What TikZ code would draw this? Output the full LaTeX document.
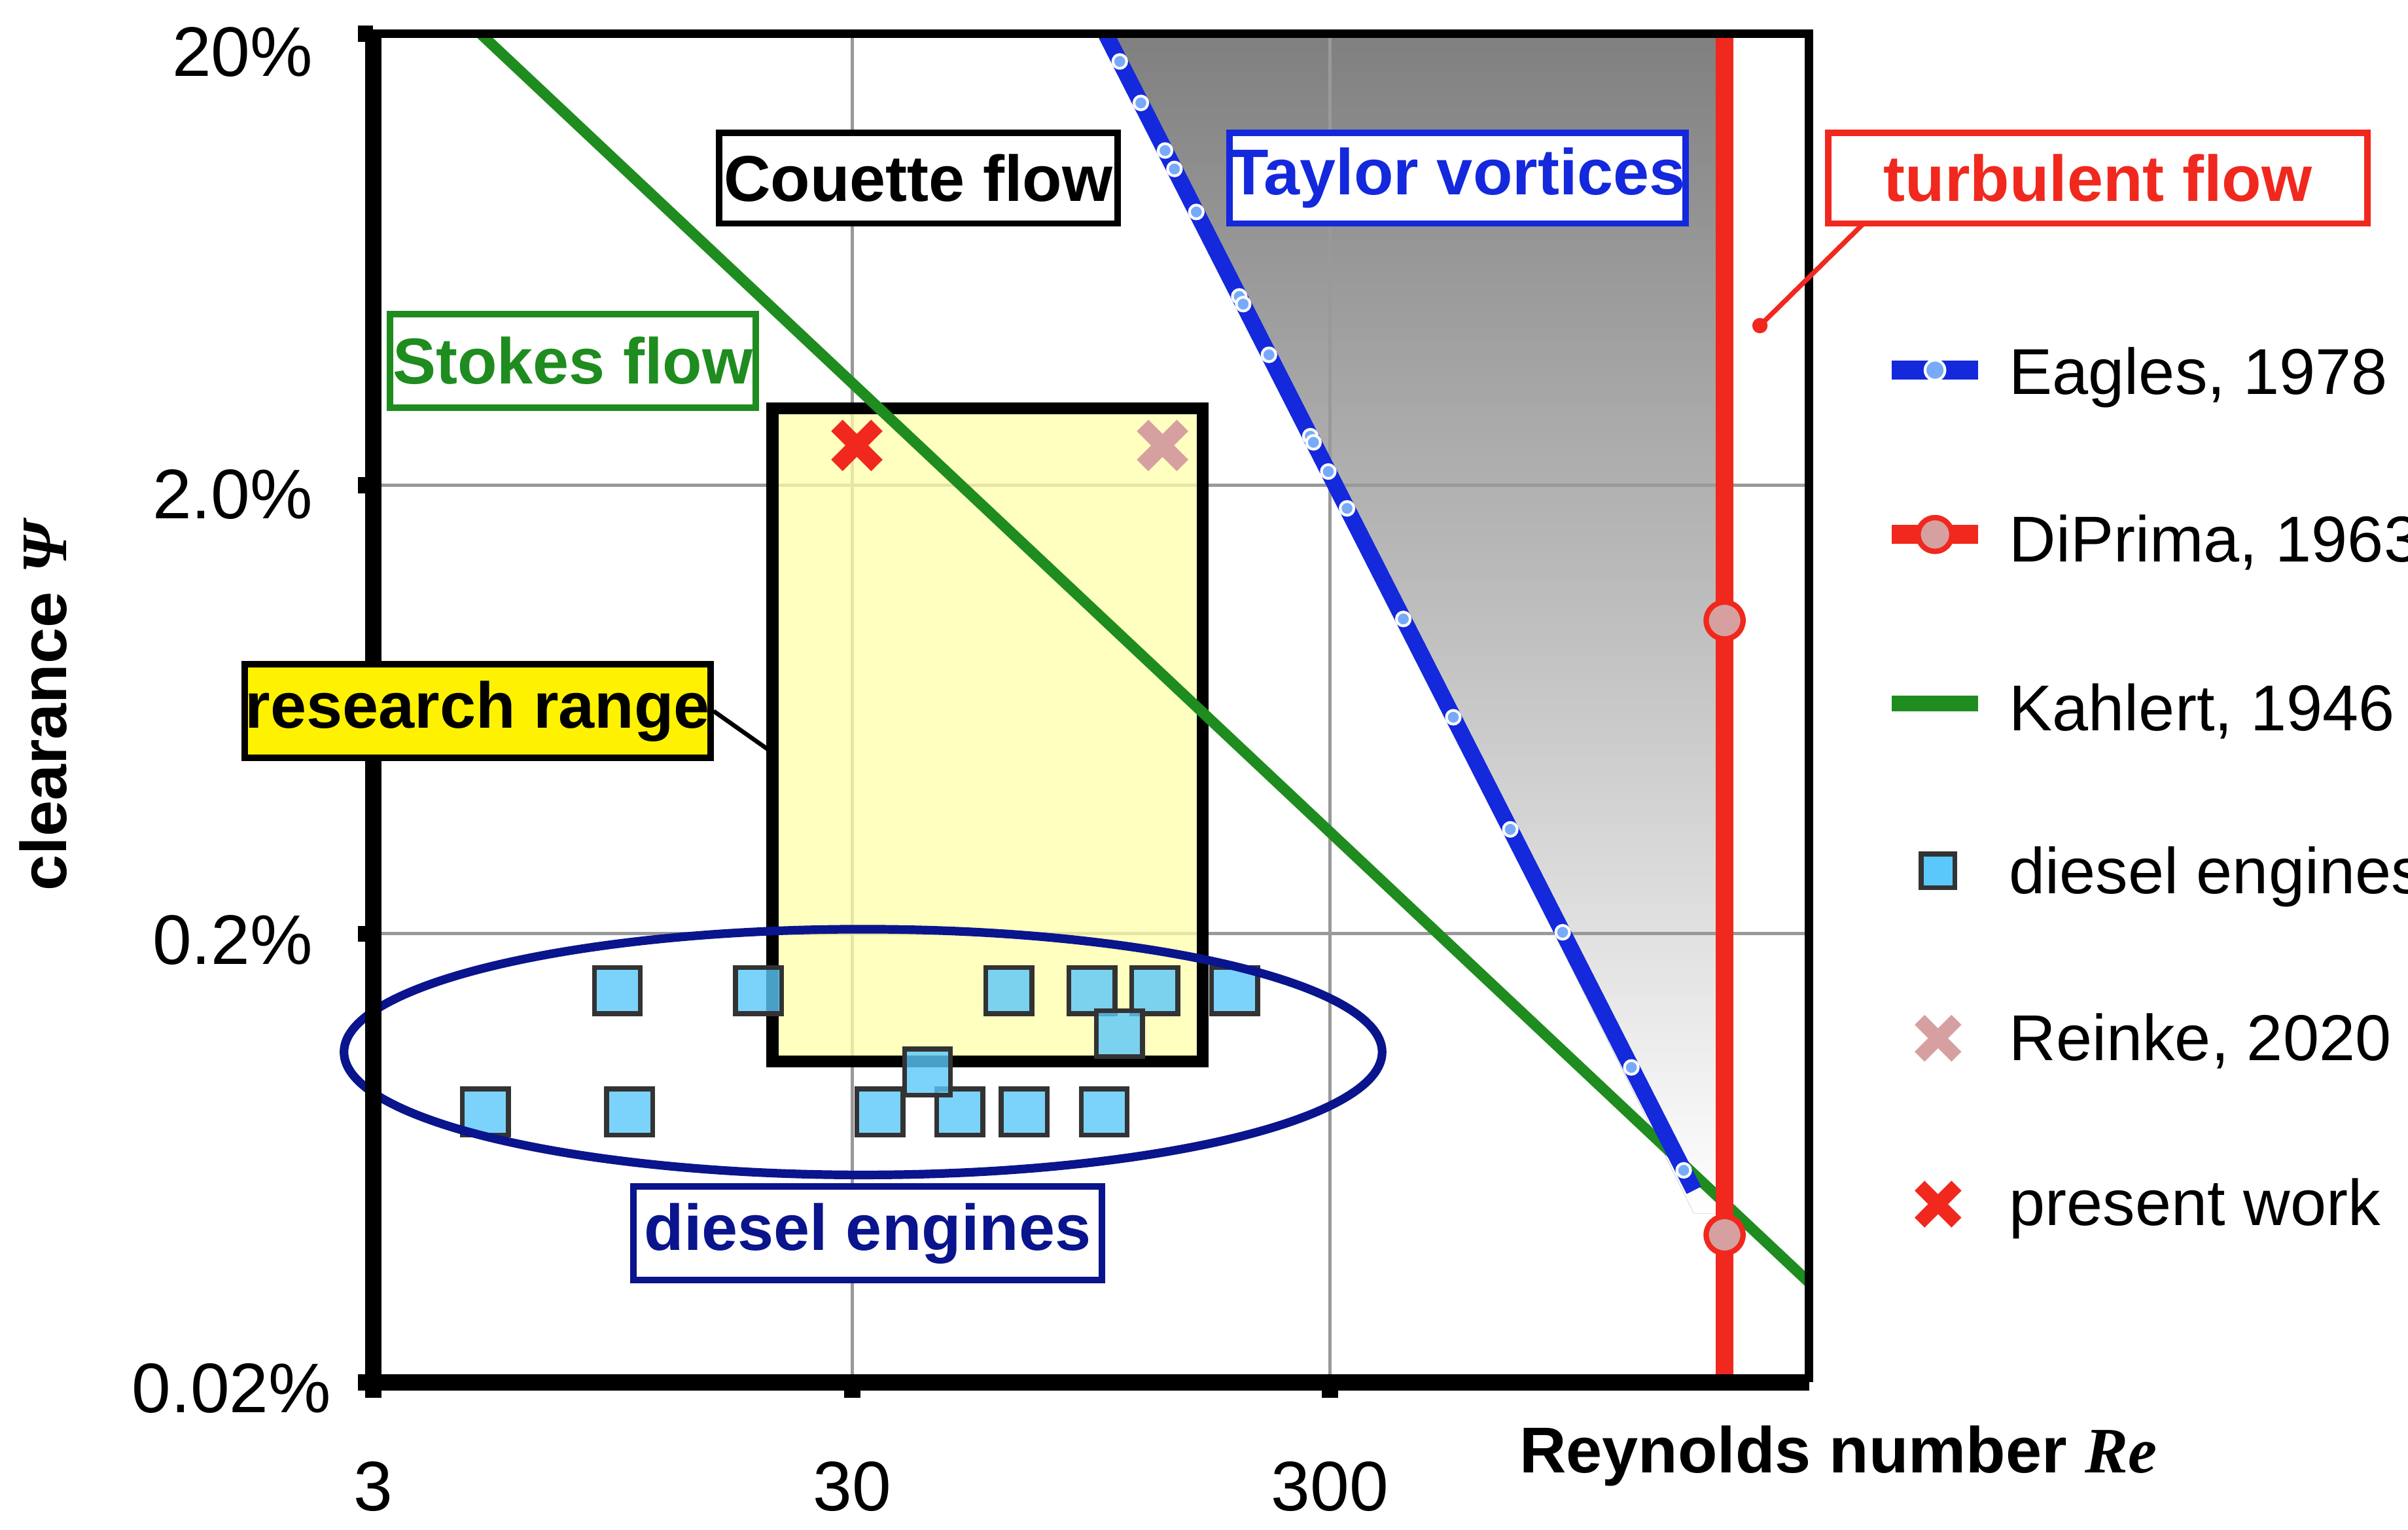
\documentclass[tikz,border=0pt]{standalone}
\usepackage{fontspec}
\setmainfont{Liberation Sans}
\newfontfamily\serifit{Liberation Serif}
\definecolor{eblue}{RGB}{20,40,220}
\definecolor{dblue}{RGB}{10,20,140}
\definecolor{gr}{RGB}{30,140,30}
\definecolor{rd}{RGB}{240,40,30}
\definecolor{pk}{RGB}{215,160,160}
\definecolor{sqc}{RGB}{90,200,250}
\definecolor{emc}{RGB}{120,170,250}
\definecolor{shade}{RGB}{155,208,250}
\definecolor{ylw}{RGB}{255,255,170}
\begin{document}
\begin{tikzpicture}[x=0.01cm,y=-0.01cm,
  lab/.style={draw,line width=1.2pt,fill=white,font=\fontsize{12}{14}\selectfont\bfseries,inner sep=0pt,minimum height=0.59cm},
  tick/.style={font=\fontsize{13}{15}\selectfont},
  leg/.style={font=\fontsize{12}{14}\selectfont,anchor=west},
  sq/.style={draw=black!80,line width=0.9pt,fill=sqc,fill opacity=0.8,minimum size=0.3cm,inner sep=0pt},
  emk/.style={circle,draw=white,fill=emc,line width=0.5pt,minimum size=0.09cm,inner sep=0pt}]
\useasboundingbox (0,0) rectangle (1568,996);
% shaded region
\fill[shade] (720,22) -- (1120,22) -- (1120,790) -- (1103,790) -- cycle;
% grid
\draw[gray!80,line width=0.6pt] (555,22)--(555,900) (866,22)--(866,900) (243,316)--(1178,316) (243,608)--(1178,608);
% research box
\fill[ylw,fill opacity=0.75] (503,266) rectangle (783,691);
\draw[line width=2.2pt] (503,266) rectangle (783,691);
% green line
\draw[gr,line width=2pt] (313,22) -- (1178,835);
% Eagles
\draw[eblue,line width=3pt] (720,22) -- (1103,775);
\foreach \yy in {40,67,98,110,138,193,198,231,284,288,307,331,403,467,540,607,695,762}
  \node[emk] at ({720+(\yy-22)*0.5086},\yy) {};
% red line
\draw[rd,line width=3.2pt] (1123,22) -- (1123,900);
\node[circle,draw=rd,fill=pk,line width=1pt,minimum size=0.24cm,inner sep=0pt] (d1) at (1123,404) {};
\node[circle,draw=rd,fill=pk,line width=1pt,minimum size=0.24cm,inner sep=0pt] (d2) at (1123,804) {};
% squares
\foreach \xx/\yy in {402/645,494/645,657/645,711/645,752/645,804/645,729/673,316/724,410/724,573/724,625/724,667/724,719/724,604/698}
  \node[sq] at (\xx,\yy) {};
% ellipse
\draw[dblue,line width=1.6pt] (562,685) ellipse [x radius=338,y radius=80];
% crosses
\draw[rd,line width=3pt] (545,277)--(571,303) (545,303)--(571,277);
\draw[pk,line width=3pt] (744,277)--(770,303) (744,303)--(770,277);
% axes frame
\draw[line width=1.6pt] (243,22) -- (1178,22) -- (1178,900);
\draw[line width=3pt] (243,20) -- (243,906) (237,900) -- (1178,900);
\draw[line width=3pt] (233,22)--(243,22) (233,316)--(243,316) (233,608)--(243,608) (233,900)--(243,900);
\draw[line width=3pt] (555,900)--(555,910) (866,900)--(866,910) (243,900)--(243,910);
% tick labels
\node[tick,anchor=east] at (216,34) {20\%};
\node[tick,anchor=east] at (216,322) {2.0\%};
\node[tick,anchor=east] at (216,612) {0.2\%};
\node[tick,anchor=east] at (228,904) {0.02\%};
\node[tick] at (243,968) {3};
\node[tick] at (555,968) {30};
\node[tick] at (866,968) {300};
\node[font=\fontsize{12}{14}\selectfont\bfseries] at (1197,948) {Reynolds number {\serifit\bfseries\itshape Re}};
\node[font=\fontsize{12}{14}\selectfont\bfseries,rotate=90] at (28,460) {clearance {\serifit\bfseries\itshape Ψ}};
% labels
\node[lab,minimum width=2.59cm] (cou) at (598,116) {Couette flow};
\node[lab,draw=eblue,text=eblue,minimum width=2.94cm] (tay) at (949,116) {Taylor vortices};
\node[lab,draw=rd,text=rd,minimum width=3.51cm] (tur) at (1366,116) {turbulent flow};
\node[lab,draw=gr,text=gr,minimum width=2.38cm,minimum height=0.61cm] (sto) at (373,235) {Stokes flow};
\node[lab,fill=yellow,minimum width=3.03cm,minimum height=0.61cm] (res) at (311,463) {research range};
\node[lab,draw=dblue,text=dblue,minimum width=3.05cm,minimum height=0.61cm] (die) at (565,803) {diesel engines};
\coordinate (tp) at (1146,212);
\draw[rd,line width=0.9pt] (1213,146) -- (tp);
\fill[rd] (tp) circle (5);
\coordinate (rp) at (503,490);
\draw[line width=0.8pt] (res.east) -- (rp);
% legend
\draw[eblue,line width=3.5pt] (1232,241)--(1288,241);
\node[emk,minimum size=0.13cm] at (1260,241) {};
\node[leg] at (1296,246) {Eagles, 1978};
\draw[rd,line width=3.5pt] (1232,348)--(1288,348);
\node[circle,draw=rd,fill=pk,line width=1pt,minimum size=0.22cm,inner sep=0pt] at (1260,348) {};
\node[leg] at (1296,353) {DiPrima, 1963};
\draw[gr,line width=3pt] (1232,458)--(1288,458);
\node[leg] at (1296,463) {Kahlert, 1946};
\node[sq,fill opacity=1,minimum size=0.22cm] at (1262,567) {};
\node[leg] at (1296,571) {diesel engines};
\draw[pk,line width=2.6pt] (1250,664)--(1274,688) (1250,688)--(1274,664);
\node[leg] at (1296,678) {Reinke, 2020};
\draw[rd,line width=2.6pt] (1250,772)--(1274,796) (1250,796)--(1274,772);
\node[leg] at (1296,787) {present work};
\end{tikzpicture}
\end{document}
